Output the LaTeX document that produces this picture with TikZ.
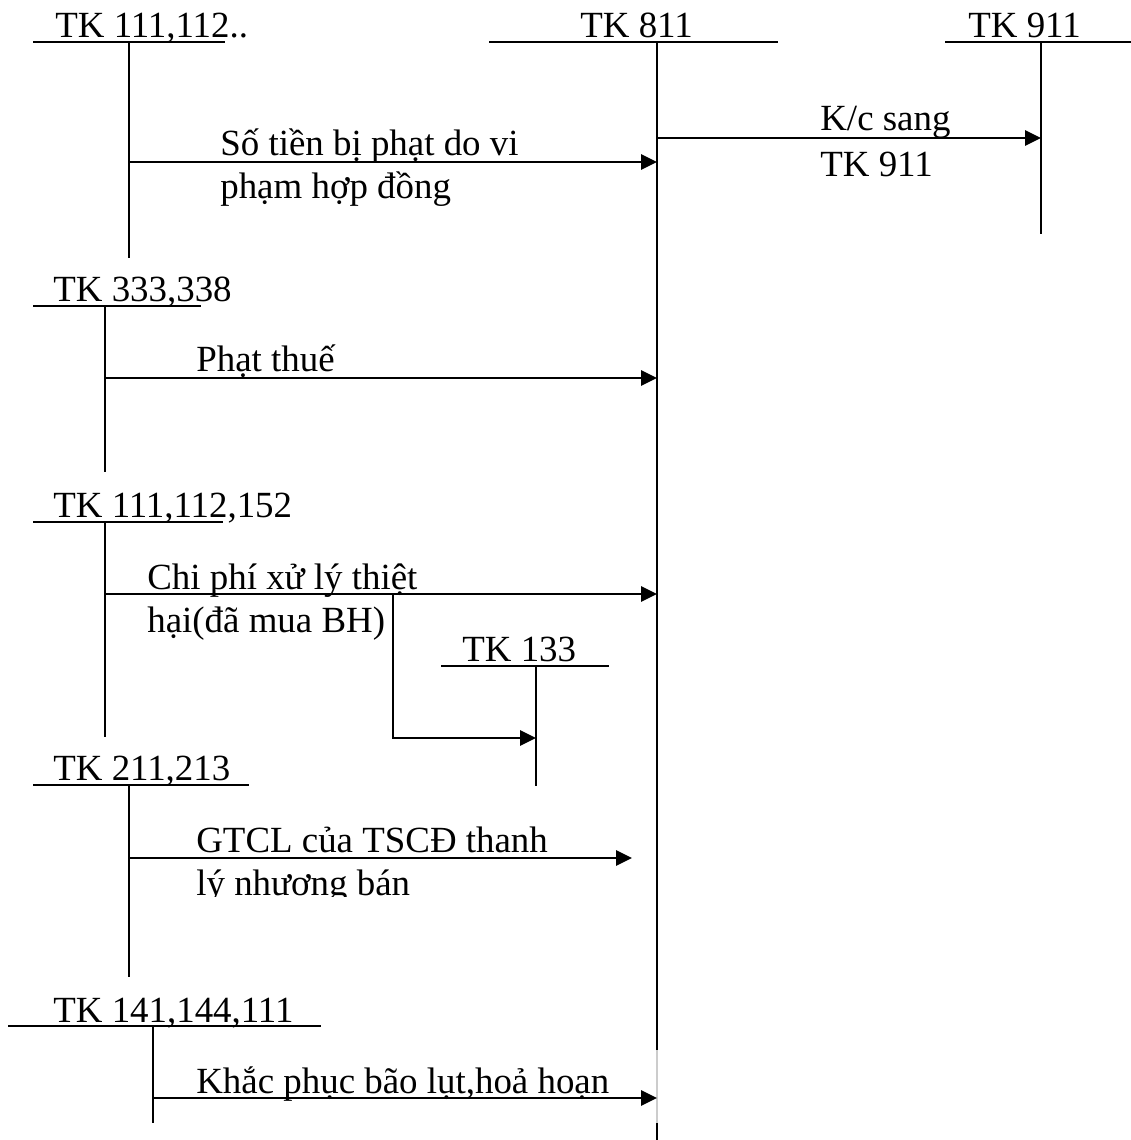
\documentclass[tikz,border=0pt]{standalone}
\usepackage{fontspec}
\setmainfont{Liberation Serif}
\usetikzlibrary{arrows.meta, positioning}
\tikzstyle{acct} = [anchor=base west, inner sep=0pt, font=\fontsize{21}{24}\selectfont]
\tikzstyle{lbl} = [anchor=base west, inner sep=0pt, align=left, font=\fontsize{21}{24}\selectfont]
\tikzstyle{tline} = [line width=1.1pt]
\tikzstyle{arrow} = [line width=1.6pt, -{Triangle[length=0.32cm,width=0.3cm]}]

\begin{document}
\begin{tikzpicture}[x=0.02cm, y=-0.02cm]
    \useasboundingbox (0,0) rectangle (1131,1140);

    % Account headings
    \node (tk111) [acct] at (55,37) {TK 111,112..};
    \node (tk811) [acct] at (580,37) {TK 811};
    \node (tk911) [acct] at (968,37) {TK 911};
    \node (tk333) [acct] at (53,301) {TK 333,338};
    \node (tk152) [acct] at (53,517) {TK 111,112,152};
    \node (tk133) [acct] at (462,661) {TK 133};
    \node (tk211) [acct] at (53,780) {TK 211,213};
    \node (tk141) [acct] at (53,1022) {TK 141,144,111};

    % T-account lines
    \draw [tline] (33,42) -- (225,42);
    \draw [tline] (129,42) -- (129,258);
    \draw [tline] (489,42) -- (778,42);
    \draw [tline] (657,42) -- (657,1050);
    \draw [tline, gray!40] (657,1050) -- (657,1123);
    \draw [tline] (657,1123) -- (657,1140);
    \draw [tline] (945,42) -- (1131,42);
    \draw [tline] (1041,42) -- (1041,234);
    \draw [tline] (33,306) -- (201,306);
    \draw [tline] (105,306) -- (105,472);
    \draw [tline] (33,522) -- (223,522);
    \draw [tline] (105,522) -- (105,737);
    \draw [tline] (441,666) -- (609,666);
    \draw [tline] (536,666) -- (536,786);
    \draw [tline] (33,785) -- (249,785);
    \draw [tline] (129,785) -- (129,977);
    \draw [tline] (8,1026) -- (321,1026);
    \draw [tline] (153,1026) -- (153,1123);

    % Arrow ends
    \coordinate (s111) at (129,162);
    \coordinate (e111) at (657,162);
    \coordinate (s811) at (657,138);
    \coordinate (e911) at (1041,138);
    \coordinate (s333) at (105,378);
    \coordinate (e333) at (657,378);
    \coordinate (s152) at (105,594);
    \coordinate (e152) at (657,594);
    \coordinate (b152) at (393,594);
    \coordinate (e133) at (536,738);
    \coordinate (s211) at (129,858);
    \coordinate (e211) at (632,858);
    \coordinate (s141) at (153,1098);
    \coordinate (e141) at (657,1098);

    % Arrows
    \draw [arrow] (s111) -- (e111);
    \draw [arrow] (s811) -- (e911);
    \draw [arrow] (s333) -- (e333);
    \draw [arrow] (s152) -- (e152);
    \draw [arrow] (b152) |- (e133);
    \draw [arrow] (s211) -- (e211);
    \draw [arrow] (s141) -- (e141);

    % Labels (anchored on the last line)
    \node (fine) [lbl] at (220,198) {Số tiền bị phạt do vi\\phạm hợp đồng};
    \node (kc) [lbl] at (820,176) {K/c sang\\[2pt]TK 911};
    \node (tax) [lbl] at (196,371) {Phạt thuế};
    \node (cost) [lbl] at (147,632) {Chi phí xử lý thiệt\\hại(đã mua BH)};
    \begin{scope}
        \clip (0,0) rectangle (1131,896);
        \node (sale) [lbl] at (196,895) {GTCL của TSCĐ thanh\\lý nhượng bán};
    \end{scope}
    \node (flood) [lbl] at (196,1093) {Khắc phục bão lụt,hoả hoạn};
\end{tikzpicture}
\end{document}
